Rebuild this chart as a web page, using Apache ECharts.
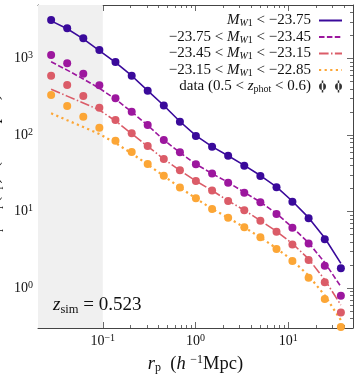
<!DOCTYPE html>
<html>
<head>
<meta charset="utf-8">
<script src="https://cdn.jsdelivr.net/npm/echarts@6/dist/echarts.min.js"></script>
<style>
  html, body { margin: 0; padding: 0; background: #fff; }
  #chart { width: 359px; height: 381px; }
</style>
</head>
<body>
<div id="chart"></div>
<script>
// projected separation bins (h^-1 Mpc)
const rp = [0.0277, 0.0413, 0.0616, 0.0918, 0.137, 0.205, 0.305, 0.455, 0.679, 1.01,
            1.51, 2.25, 3.36, 5.01, 7.48, 11.1, 16.6, 24.8, 37.0];

// measured points, one list per magnitude bin
const data1 = [3184, 2479, 1836, 1291, 899, 596, 379, 242, 149, 97, 70.3, 53.6, 39.6, 29.1, 20.7, 13.4, 8.15, 4.33, 1.81];
const data2 = [1109, 865, 632, 446, 301, 201, 135, 85.9, 59.4, 41.4, 31.3, 23.8, 17.6, 13.2, 9.27, 6.14, 3.81, 1.95, 0.79];
const data3 = [596, 450, 323, 227, 157, 105, 71.8, 48.5, 34.6, 25.0, 18.8, 13.7, 10.4, 7.57, 5.44, 3.70, 2.32, 1.19, 0.48];
const data4 = [333, 239, 173, 124, 84.1, 59.8, 41.7, 29.4, 20.6, 14.9, 10.8, 8.29, 6.21, 4.59, 3.23, 2.25, 1.36, 0.72, 0.31];

// simulation curves
const model1 = [3100, 2450, 1800, 1270, 890, 595, 380, 243, 150, 98, 70.5, 53.5, 40, 29.5, 21, 13.6, 8.3, 4.5, 2.1];
const model2 = [905, 705, 540, 408, 295, 200, 134, 86, 59, 41.5, 31.3, 24, 17.8, 13.3, 9.4, 6.2, 3.9, 2.15, 1.04];
const model3 = [395, 322, 262, 212, 153, 104, 71, 48.5, 34.5, 25, 18.8, 13.8, 10.4, 7.6, 5.5, 3.8, 2.4, 1.28, 0.6];
const model4 = [192, 156, 127, 103, 78.5, 57.5, 41, 29.2, 20.6, 14.8, 10.8, 8.3, 6.2, 4.6, 3.3, 2.3, 1.45, 0.8, 0.38];

const xMajor = [0.1, 1, 10];
const xMinor = [0.02, 0.03, 0.04, 0.05, 0.06, 0.07, 0.08, 0.09, 0.2, 0.3, 0.4, 0.5, 0.6, 0.7, 0.8, 0.9,
                2, 3, 4, 5, 6, 7, 8, 9, 20, 30, 40, 50];
const yMajor = [1, 10, 100, 1000];
const yMinor = [0.3, 0.4, 0.5, 0.6, 0.7, 0.8, 0.9, 2, 3, 4, 5, 6, 7, 8, 9, 20, 30, 40, 50, 60, 70, 80, 90,
                200, 300, 400, 500, 600, 700, 800, 900, 2000, 3000, 4000, 5000];

const colors = ['#3a0a9b', '#9c179e', '#db5c68', '#fca636'];
const lineTypes = ['solid', [5.5, 2.4], [9.6, 2.4, 1.5, 2.4], [2.2, 3.4]];
const models = [model1, model2, model3, model4];
const datas = [data1, data2, data3, data4];
const legendNames = ['b1', 'b2', 'b3', 'b4', 'data'];
const legendLabels = {
  b1: '{i|M}{si|W}{s|1}{n| < −23.75}',
  b2: '{n|−23.75 < }{i|M}{si|W}{s|1}{n| < −23.45}',
  b3: '{n|−23.45 < }{i|M}{si|W}{s|1}{n| < −23.15}',
  b4: '{n|−23.15 < }{i|M}{si|W}{s|1}{n| < −22.85}',
  data: '{n|data (0.5 < }{i|z}{s|phot}{n| < 0.6)}'
};

const FONT = '"Liberation Serif", "DejaVu Serif", serif';
const AX = '#444';

function powLabel(v) {
  const e = Math.round(Math.log10(v));
  return '{b|10}{p|' + String(e).replace('-', '−') + '}';
}
const tickRich = {
  b: { fontFamily: FONT, fontSize: 14, lineHeight: 16, color: '#111' },
  p: { fontFamily: FONT, fontSize: 10, lineHeight: 8, verticalAlign: 'top', color: '#111' }
};
const nameRich = {
  n: { fontFamily: FONT, fontSize: 18.5, lineHeight: 20, color: '#111' },
  i: { fontFamily: FONT, fontSize: 18.5, lineHeight: 20, fontStyle: 'italic', color: '#111' },
  s: { fontFamily: FONT, fontSize: 12, lineHeight: 11, verticalAlign: 'bottom', color: '#111' },
  p: { fontFamily: FONT, fontSize: 12, lineHeight: 10, verticalAlign: 'top', color: '#111' }
};

function xAxisDef(pos, major, showLine) {
  return {
    type: 'log', logBase: 10, min: 0.02, max: 50, position: pos,
    axisLine: { show: showLine, lineStyle: { color: AX, width: 1 } },
    axisTick: { show: true, inside: true, length: major ? 6 : 3, customValues: major ? xMajor : xMinor,
                lineStyle: { color: AX, width: 0.8 } },
    axisLabel: { show: false },
    splitLine: { show: false }
  };
}
function yAxisDef(pos, major, showLine) {
  return {
    type: 'log', logBase: 10, min: 0.3, max: 5000, position: pos,
    axisLine: { show: showLine, lineStyle: { color: AX, width: 1 } },
    axisTick: { show: true, inside: true, length: major ? 6 : 3, customValues: major ? yMajor : yMinor,
                lineStyle: { color: AX, width: 0.8 } },
    axisLabel: { show: false },
    splitLine: { show: false }
  };
}

const xAxes = [xAxisDef('bottom', true, true), xAxisDef('bottom', false, false),
               xAxisDef('top', true, true), xAxisDef('top', false, false)];
xAxes[0].axisLabel = { show: true, customValues: xMajor, formatter: powLabel, rich: tickRich, margin: 5 };
xAxes[0].name = '{i|r}{s|p}{n|  (}{i|h}{n| }{p|−1}{n|Mpc)}';
xAxes[0].nameLocation = 'middle';
xAxes[0].nameGap = 26;
xAxes[0].nameTextStyle = { rich: nameRich };

const yAxes = [yAxisDef('left', true, true), yAxisDef('left', false, false),
               yAxisDef('right', true, true), yAxisDef('right', false, false)];
yAxes[0].axisLabel = { show: true, customValues: yMajor, formatter: powLabel, rich: tickRich, margin: 5 };
yAxes[0].name = '{i|r}{s|p}{n| }{i|w}{s|p}{n|(}{i|r}{s|p}{n|)  (}{i|h}{p|−2}{n|Mpc}{p|2}{n|)}';
yAxes[0].nameLocation = 'middle';
yAxes[0].nameRotate = 90;
yAxes[0].nameGap = 33;
yAxes[0].nameTextStyle = { rich: nameRich };

const series = [];
models.forEach(function (m, k) {
  const s = {
    name: legendNames[k], type: 'line', symbol: 'none', showSymbol: false, z: 2,
    data: rp.map(function (x, i) { return [x, m[i]]; }),
    color: colors[k],
    lineStyle: { color: colors[k], width: k === 3 ? 2.2 : 1.6, type: lineTypes[k], cap: 'butt' }
  };
  if (k === 0) {
    s.markArea = {
      silent: true,
      itemStyle: { color: '#f0f0f0' },
      data: [[{ xAxis: 0.02 }, { xAxis: 0.1 }]]
    };
  }
  series.push(s);
});
datas.forEach(function (d, k) {
  series.push({
    name: 'pts' + k, type: 'scatter', symbolSize: 8, z: 3,
    data: rp.map(function (x, i) { return [x, d[i]]; }),
    itemStyle: { color: colors[k], opacity: 1 }
  });
});
series.push({ name: 'data', type: 'scatter', data: [], itemStyle: { color: '#000' } });

const legendRich = {
  n: { fontFamily: FONT, fontSize: 15, lineHeight: 16, color: '#111' },
  i: { fontFamily: FONT, fontSize: 15, lineHeight: 16, fontStyle: 'italic', color: '#111' },
  s: { fontFamily: FONT, fontSize: 10, lineHeight: 8, verticalAlign: 'bottom', color: '#111' },
  si: { fontFamily: FONT, fontSize: 10, lineHeight: 8, verticalAlign: 'bottom', fontStyle: 'italic', color: '#111' }
};
const errIcon = 'path://M0,14a7,7 0 1,0 14,0a7,7 0 1,0 -14,0Z M5.5,2h3v24h-3Z M32,14a7,7 0 1,0 14,0a7,7 0 1,0 -14,0Z M37.5,2h3v24h-3Z';

// line samples only: hide the marker the legend puts on top of each line
const legendItems = legendNames.slice(0, 4).map(function (n) {
  return { name: n, itemStyle: { opacity: 0 } };
});
legendItems.push({ name: 'data', icon: errIcon, itemStyle: { color: '#000' } });

const chart = echarts.init(document.getElementById('chart'), null, { renderer: 'canvas' });
chart.setOption({
  animation: false,
  backgroundColor: '#fff',
  grid: { left: 38, right: 6, top: 5, bottom: 53, outerBoundsMode: 'none' },
  title: {
    text: '{i|z}{s|sim}{n| = 0.523}',
    left: 53, top: 294, padding: 0,
    textStyle: {
      fontWeight: 'normal',
      rich: {
        n: { fontFamily: FONT, fontSize: 19, lineHeight: 22, fontWeight: 'normal', color: '#111' },
        i: { fontFamily: FONT, fontSize: 19, lineHeight: 22, fontWeight: 'normal', fontStyle: 'italic', color: '#111' },
        s: { fontFamily: FONT, fontSize: 12.5, lineHeight: 10, fontWeight: 'normal', verticalAlign: 'bottom', color: '#111' }
      }
    }
  },
  legend: {
    orient: 'vertical', right: 16, top: 13, padding: 0,
    align: 'right', itemWidth: 23, itemHeight: 14, itemGap: 1,
    selectedMode: false,
    data: legendItems,
    formatter: function (name) { return legendLabels[name]; },
    textStyle: { rich: legendRich, padding: [0, 3, 0, 0] }
  },
  xAxis: xAxes,
  yAxis: yAxes,
  series: series
});
</script>
</body>
</html>
